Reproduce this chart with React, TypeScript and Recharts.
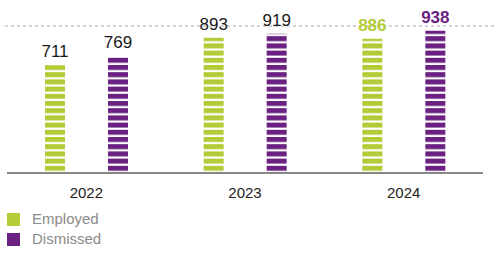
import { Bar, BarChart, LabelList, ReferenceLine, XAxis, YAxis } from 'recharts'

const years = ['2022', '2023', '2024']
const employed = [711, 893, 886]
const dismissed = [769, 919, 938]
const topLine = 970

const GREEN = '#b3cb37'
const PURPLE = '#6a2181'
const FONT = '"Liberation Sans", Arial, sans-serif'

const data = years.map((year, i) => ({
  year,
  employed: employed[i],
  dismissed: dismissed[i],
}))

// last year is highlighted in the series colour
const makeLabel = (color: string) => (props: any) => {
  const { x, y, width, value, index } = props
  const last = index === years.length - 1
  return (
    <text
      x={x + width / 2}
      y={y - 8}
      textAnchor="middle"
      fontFamily={FONT}
      fontSize={17}
      fontWeight={last ? 700 : 400}
      fill={last ? color : '#1a1a1a'}
    >
      {value}
    </text>
  )
}

export default function App() {
  return (
    <div style={{ position: 'relative', width: 494, height: 255 }}>
      <style>{'body{margin:0}'}</style>
      <BarChart
        width={494}
        height={255}
        data={data}
        margin={{ top: 26, right: 11, left: 7, bottom: 52 }}
        barSize={20}
        barGap={43}
      >
        <defs>
          <pattern id="stripeGreen" patternUnits="userSpaceOnUse" width={10} height={7.2} y={173}>
            <rect x={0} y={0} width={10} height={5} fill={GREEN} />
          </pattern>
          <pattern id="stripePurple" patternUnits="userSpaceOnUse" width={10} height={7.2} y={173}>
            <rect x={0} y={0} width={10} height={5} fill={PURPLE} />
          </pattern>
        </defs>
        <YAxis hide domain={[0, topLine]} />
        <XAxis
          dataKey="year"
          height={30}
          axisLine={{ stroke: '#111', strokeWidth: 1 }}
          tickLine={false}
          tickSize={6}
          tickMargin={8}
          tick={{ fill: '#222', fontSize: 15, fontFamily: FONT }}
        />
        <ReferenceLine
          y={topLine}
          shape={(p: any) => (
            <line
              x1={p.x1 - 2}
              y1={p.y1}
              x2={494}
              y2={p.y2}
              stroke="#aaa"
              strokeDasharray="3 3"
            />
          )}
        />
        <Bar dataKey="employed" fill="url(#stripeGreen)" isAnimationActive={false}>
          <LabelList dataKey="employed" content={makeLabel(GREEN)} />
        </Bar>
        <Bar dataKey="dismissed" fill="url(#stripePurple)" isAnimationActive={false}>
          <LabelList dataKey="dismissed" content={makeLabel(PURPLE)} />
        </Bar>
      </BarChart>
      <div
        style={{
          position: 'absolute',
          left: 7,
          top: 209,
          fontFamily: FONT,
          fontSize: 15,
          color: '#8a8a8a',
          lineHeight: '20px',
        }}
      >
        {[
          { name: 'Employed', color: GREEN },
          { name: 'Dismissed', color: PURPLE },
        ].map((item) => (
          <div key={item.name} style={{ display: 'flex', alignItems: 'center', height: 20 }}>
            <span
              style={{
                display: 'inline-block',
                width: 13,
                height: 13,
                background: item.color,
                marginRight: 12,
              }}
            />
            {item.name}
          </div>
        ))}
      </div>
    </div>
  )
}
